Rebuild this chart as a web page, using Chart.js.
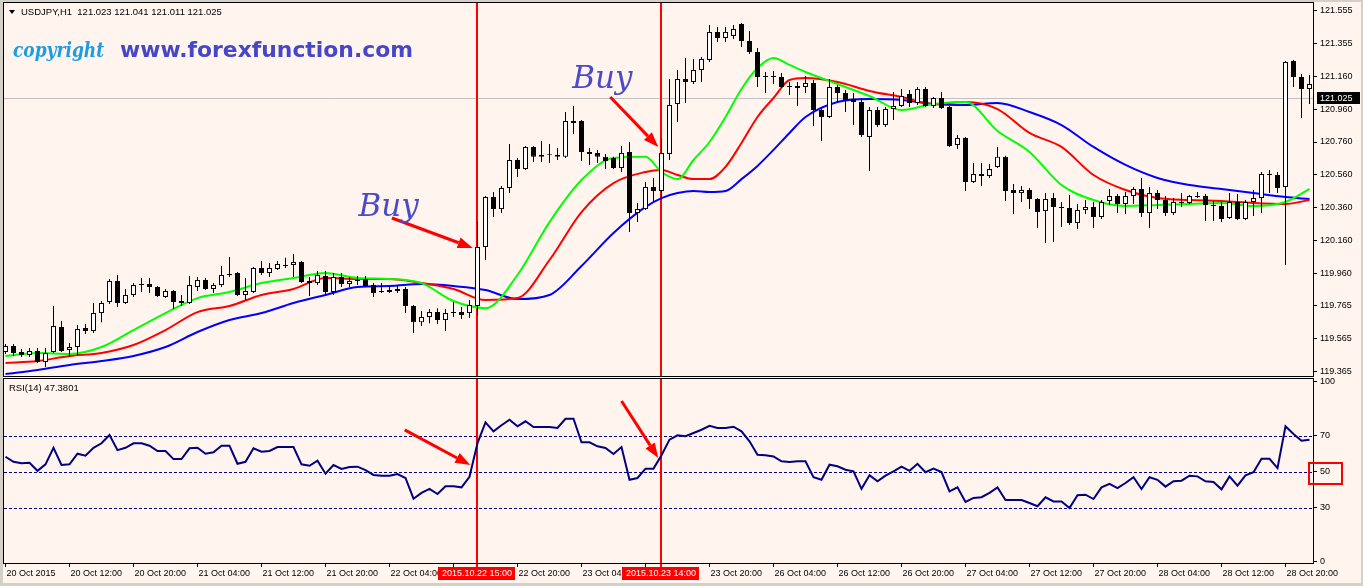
<!DOCTYPE html>
<html><head><meta charset="utf-8">
<script src="https://cdn.jsdelivr.net/npm/chart.js@4.4.0/dist/chart.umd.min.js"></script>
<style>
html,body{margin:0;padding:0;background:#FFF5EE;}
#wrap{position:relative;width:1363px;height:586px;background:#FFF5EE;overflow:hidden;font-family:"Liberation Sans",Arial,sans-serif;}
canvas{position:absolute;left:0;}
.strip{position:absolute;background:#D4D0C8;}
.txt{position:absolute;white-space:pre;color:#000;display:inline-block;transform-origin:left top;}
</style></head><body>
<div id="wrap">
<canvas id="c1" width="1363" height="378" style="top:0;width:1363px;height:378px"></canvas>
<canvas id="c2" width="1363" height="208" style="top:378px;width:1363px;height:208px"></canvas>
<div class="strip" style="left:0;top:0;width:1363px;height:2px"></div>
<div class="strip" style="left:0;top:0;width:3px;height:586px"></div>
<div class="strip" style="left:0;top:583px;width:1363px;height:3px"></div>
<div class="strip" style="left:1361px;top:0;width:2px;height:586px"></div>
<div style="position:absolute;left:9px;top:10px;width:0;height:0;border-left:3px solid transparent;border-right:3px solid transparent;border-top:4px solid #000"></div>
<div class="txt" id="hdr" style="left:21px;top:6px;font-size:9.5px;line-height:11px">USDJPY,H1  121.023 121.041 121.011 121.025</div>
<div class="txt" id="copy1" style="left:13px;top:40px;font-family:'DejaVu Serif';font-style:italic;font-weight:bold;font-size:20px;line-height:20px;color:#1C9CE4">copyright</div>
<div class="txt" id="copy2" style="left:120px;top:40px;font-family:'DejaVu Sans';font-weight:bold;font-size:21px;line-height:21px;color:#4646C8">www.forexfunction.com</div>
<div class="txt" id="rsilbl" style="left:9px;top:382px;font-size:9.5px;line-height:11px">RSI(14) 47.3801</div>
</div>
<script>
// ---------- DATA ----------
const opens = [119.486,119.522,119.486,119.468,119.492,119.425,119.486,119.637,119.498,119.516,
119.631,119.613,119.722,119.789,119.917,119.783,119.832,119.898,119.898,119.880,
119.820,119.856,119.795,119.783,119.880,119.923,119.868,119.892,119.959,119.965,
119.832,119.850,119.996,119.965,119.990,120.014,120.014,120.032,119.917,119.904,
119.947,119.850,119.941,119.898,119.923,119.929,119.892,119.856,119.850,119.868,
119.868,119.765,119.667,119.698,119.728,119.680,119.728,119.728,119.722,119.765,
120.123,120.426,120.353,120.481,120.651,120.596,120.730,120.682,120.688,120.670,
120.670,120.888,120.888,120.700,120.694,120.670,120.663,120.602,120.700,120.329,
120.353,120.487,120.463,120.688,120.991,121.142,121.124,121.197,121.258,121.428,
121.391,121.404,121.476,121.373,121.306,121.155,121.161,121.155,121.100,121.100,
121.094,121.118,120.954,120.912,121.094,121.058,121.021,121.003,120.791,120.954,
120.863,120.960,120.979,121.051,120.997,121.082,120.979,121.027,120.973,120.742,
120.784,120.517,120.566,120.554,120.609,120.670,120.469,120.450,120.469,120.414,
120.341,120.420,120.366,120.360,120.268,120.347,120.366,120.305,120.402,120.432,
120.384,120.432,120.475,120.329,120.450,120.408,120.329,120.396,120.390,120.426,
120.432,120.378,120.372,120.299,120.396,120.293,120.396,120.420,120.566,120.560,
120.487,121.252,121.155,121.082];
const highs = [119.534,119.534,119.504,119.510,119.510,119.510,119.765,119.674,119.540,119.649,
119.655,119.783,119.795,119.929,119.953,119.868,119.904,119.935,119.935,119.886,
119.868,119.862,119.832,119.947,119.941,119.935,119.904,120.008,120.063,119.971,
119.935,120.002,120.038,120.026,120.038,120.057,120.081,120.038,119.941,119.977,
119.977,119.965,119.965,119.941,119.947,119.947,119.904,119.904,119.880,119.892,
119.880,119.771,119.734,119.746,119.752,119.746,119.789,119.759,119.801,120.275,
120.432,120.457,120.493,120.748,120.663,120.736,120.736,120.766,120.748,120.724,
120.942,120.979,120.894,120.724,120.712,120.688,120.670,120.736,120.760,120.390,
120.517,120.542,120.778,121.142,121.197,121.270,121.264,121.276,121.470,121.458,
121.458,121.470,121.482,121.434,121.331,121.185,121.191,121.179,121.124,121.124,
121.161,121.136,120.973,121.142,121.106,121.076,121.058,121.027,120.973,120.973,
120.973,121.064,121.082,121.076,121.094,121.094,121.033,121.064,120.979,120.803,
120.790,120.633,120.633,120.627,120.730,120.676,120.505,120.493,120.481,120.420,
120.450,120.450,120.396,120.438,120.384,120.408,120.396,120.408,120.475,120.444,
120.457,120.487,120.542,120.487,120.469,120.432,120.420,120.450,120.438,120.457,
120.444,120.402,120.396,120.450,120.444,120.408,120.469,120.578,120.590,120.578,
121.252,121.258,121.173,121.167];
const lows = [119.474,119.462,119.456,119.456,119.419,119.395,119.480,119.486,119.456,119.468,
119.595,119.601,119.667,119.777,119.759,119.777,119.820,119.850,119.844,119.820,
119.813,119.746,119.765,119.777,119.856,119.862,119.844,119.880,119.941,119.826,
119.801,119.844,119.953,119.941,119.984,119.996,119.941,119.904,119.826,119.892,
119.826,119.832,119.880,119.880,119.892,119.880,119.820,119.844,119.844,119.844,
119.722,119.601,119.643,119.661,119.655,119.613,119.698,119.686,119.692,119.710,
120.044,120.305,120.329,120.450,120.548,120.590,120.639,120.639,120.633,120.651,
120.663,120.809,120.645,120.621,120.633,120.596,120.596,120.578,120.214,120.274,
120.347,120.396,120.408,120.651,120.882,120.997,121.112,121.124,121.246,121.367,
121.367,121.385,121.337,121.294,121.094,121.058,121.112,121.088,121.045,120.979,
121.058,120.857,120.766,120.906,121.003,120.942,120.863,120.791,120.584,120.851,
120.851,120.894,120.973,120.973,120.985,120.973,120.966,120.960,120.730,120.718,
120.463,120.511,120.493,120.542,120.602,120.402,120.323,120.396,120.353,120.238,
120.147,120.153,120.244,120.256,120.232,120.323,120.238,120.293,120.378,120.329,
120.323,120.384,120.305,120.238,120.353,120.311,120.317,120.366,120.384,120.420,
120.281,120.281,120.274,120.293,120.287,120.287,120.311,120.329,120.450,120.450,
120.014,121.094,120.906,120.991];
const closes = [119.522,119.480,119.468,119.492,119.425,119.480,119.643,119.492,119.516,119.625,
119.613,119.722,119.783,119.917,119.783,119.832,119.892,119.892,119.880,119.826,
119.856,119.789,119.783,119.892,119.923,119.868,119.892,119.953,119.953,119.832,
119.856,119.996,119.965,119.996,120.020,120.008,120.032,119.910,119.904,119.953,
119.850,119.941,119.898,119.917,119.917,119.886,119.844,119.850,119.862,119.856,
119.765,119.667,119.698,119.728,119.680,119.722,119.722,119.710,119.771,120.123,
120.426,120.353,120.481,120.651,120.596,120.730,120.670,120.670,120.682,120.682,
120.888,120.876,120.700,120.688,120.670,120.645,120.602,120.694,120.329,120.353,
120.487,120.463,120.694,120.985,121.142,121.124,121.197,121.264,121.428,121.391,
121.428,121.446,121.373,121.306,121.155,121.161,121.155,121.094,121.094,121.088,
121.118,120.954,120.912,121.094,121.058,121.015,121.003,120.803,120.954,120.863,
120.960,120.979,121.039,120.997,121.082,120.979,121.027,120.966,120.736,120.784,
120.517,120.566,120.554,120.596,120.670,120.463,120.450,120.469,120.414,120.335,
120.414,120.366,120.360,120.268,120.347,120.366,120.305,120.396,120.432,120.384,
120.432,120.475,120.329,120.450,120.408,120.329,120.396,120.390,120.432,120.432,
120.378,120.372,120.293,120.396,120.293,120.396,120.420,120.566,120.560,120.481,
121.246,121.155,121.082,121.112];

const maIdx   = [0,4,8,12,16,20,24,28,32,36,40,44,48,52,56,60,64,68,72,76,80,82,84,86,88,90,92,94,96,98,100,104,108,112,116,120,124,128,132,136,140,144,148,152,156,160,163];
const maGreen = [119.462,119.480,119.474,119.516,119.619,119.722,119.813,119.850,119.904,119.935,119.965,119.935,119.929,119.904,119.795,119.752,119.953,120.274,120.529,120.663,120.670,120.578,120.535,120.651,120.760,120.912,121.082,121.209,121.270,121.228,121.185,121.112,121.039,120.954,120.991,121.003,120.827,120.700,120.499,120.408,120.372,120.378,120.384,120.390,120.372,120.396,120.475];
const maRed   = [119.419,119.431,119.462,119.480,119.528,119.619,119.728,119.765,119.832,119.868,119.935,119.929,119.929,119.904,119.868,119.801,119.813,120.044,120.335,120.511,120.578,120.590,120.560,120.535,120.535,120.609,120.754,120.912,121.027,121.136,121.148,121.124,121.070,121.033,120.991,121.003,120.960,120.815,120.730,120.560,120.469,120.420,120.408,120.402,120.390,120.384,120.408];
const maBlue  = [119.352,119.377,119.407,119.431,119.462,119.516,119.607,119.680,119.722,119.783,119.832,119.880,119.886,119.898,119.886,119.862,119.807,119.832,120.008,120.208,120.366,120.420,120.450,120.463,120.457,120.463,120.535,120.615,120.712,120.815,120.912,121.003,121.021,121.015,120.991,120.985,120.997,120.942,120.863,120.730,120.621,120.542,120.499,120.475,120.450,120.426,120.414];

const rsi = [58.2,55.4,54.6,54.9,50.4,54.0,63.2,53.6,54.0,59.9,
58.8,63.2,65.7,70.3,61.9,63.2,65.7,65.7,64.3,61.4,
61.4,56.9,56.9,62.9,63.2,59.9,60.7,64.3,64.3,54.3,
55.4,62.9,61.0,61.4,63.6,63.6,63.6,54.0,53.2,56.0,
48.8,53.6,51.4,52.5,52.7,50.8,48.1,47.7,47.7,48.6,
46.4,34.9,38.1,40.4,37.5,41.8,41.8,41.2,47.1,65.8,
77.3,72.3,75.7,78.8,75.1,77.9,74.7,74.7,74.7,74.2,
79.3,79.3,66.2,66.2,64.0,63.1,59.7,63.6,45.4,46.4,
51.6,51.6,59.0,67.7,70.1,69.6,71.4,73.2,75.4,74.2,
74.2,74.9,72.3,66.8,59.3,59.0,58.4,55.7,55.3,55.7,
55.7,46.8,45.4,53.8,52.9,51.0,50.1,40.4,47.9,44.6,
47.7,50.1,52.7,50.4,54.3,49.6,51.6,49.7,39.0,41.2,
33.1,35.3,35.7,38.1,41.2,34.2,34.2,34.2,32.5,30.7,
35.7,33.4,33.4,29.7,36.8,37.1,34.7,41.2,43.2,40.8,
43.6,46.8,40.3,46.8,45.4,41.6,44.6,44.9,47.7,47.3,
44.6,44.2,40.1,47.3,42.1,47.9,49.6,57.1,57.1,51.9,
75.1,70.8,67.1,67.7];

const priceTicks = [121.555,121.355,121.160,120.960,120.760,120.560,120.360,120.160,119.960,119.765,119.565,119.365];
const rsiTicks = [100,70,50,30,0];
const rsiLevels = [70,50,30];
const timeTickIdx = [0,8,16,24,32,40,48,56,64,72,80,88,96,104,112,120,128,136,144,152,160];
const timeTickLabels = ['20 Oct 2015','20 Oct 12:00','20 Oct 20:00','21 Oct 04:00','21 Oct 12:00','21 Oct 20:00','22 Oct 04:00','22 Oct 12:00','22 Oct 20:00','23 Oct 04:00','23 Oct 12:00','23 Oct 20:00','26 Oct 04:00','26 Oct 12:00','26 Oct 20:00','27 Oct 04:00','27 Oct 12:00','27 Oct 20:00','28 Oct 04:00','28 Oct 12:00','28 Oct 20:00'];
const markerBars = [59,82];
const markerLabels = ['2015.10.22 15:00','2015.10.23 14:00'];
const currentPrice = 121.025;
const currentPriceLabel = '121.025';
// annotations in data units (bar index, value)
const priceArrows = [{from:[48.3,120.299],to:[58.4,120.117]},{from:[75.6,121.033],to:[81.6,120.730]}];
const rsiArrows = [{from:[49.9,73.1],to:[58.1,53.6]},{from:[77.0,89.2],to:[81.6,57.5]}];
const buyNotes = [{x:47.9,y:120.311,text:'Buy'},{x:74.6,y:121.088,text:'Buy'}];

// ---------- RENDER ----------
Chart.defaults.font.family = "'Liberation Sans', Arial, sans-serif";
Chart.defaults.font.size = 9;
Chart.defaults.color = '#000';
const X_MIN = -0.1875, X_MAX = 163.4375;
const AXIS_FONT = {family:"'Liberation Sans', Arial, sans-serif", size:9};

function drawArrow(ctx,x1,y1,x2,y2){
  const ang = Math.atan2(y2-y1,x2-x1), hl=15, hw=5.5;
  const bx = x2-hl*Math.cos(ang), by = y2-hl*Math.sin(ang);
  ctx.strokeStyle='#FF0000'; ctx.fillStyle='#FF0000'; ctx.lineWidth=3; ctx.lineCap='butt';
  ctx.beginPath(); ctx.moveTo(x1,y1); ctx.lineTo(bx,by); ctx.stroke();
  ctx.beginPath(); ctx.moveTo(x2,y2);
  ctx.lineTo(bx-hw*Math.sin(ang), by+hw*Math.cos(ang));
  ctx.lineTo(bx+hw*Math.sin(ang), by-hw*Math.cos(ang));
  ctx.closePath(); ctx.fill();
}
function drawFrame(chart){
  const {ctx, chartArea:a} = chart;
  ctx.save(); ctx.strokeStyle='#000'; ctx.lineWidth=1;
  ctx.strokeRect(Math.floor(a.left)-0.5, Math.floor(a.top)-0.5, Math.round(a.right-a.left)+1, Math.round(a.bottom-a.top)+1);
  ctx.restore();
}
function drawMarkers(chart, extra){
  const {ctx, chartArea:a, scales:{x}} = chart;
  ctx.save(); ctx.strokeStyle='#FF0000'; ctx.lineWidth=2;
  markerBars.forEach(b=>{
    const px = Math.floor(x.getPixelForValue(b));
    ctx.beginPath(); ctx.moveTo(px,a.top); ctx.lineTo(px,a.bottom+extra); ctx.stroke();
  });
  ctx.restore();
}
function noPad(s){ s.paddingTop=0; s.paddingBottom=0; s.paddingLeft=0; s.paddingRight=0; }

const mainDeco = {
  id:'mainDeco',
  beforeDatasetsDraw(chart){
    const {ctx, chartArea:a, scales:{y}} = chart;
    ctx.save();
    const py = Math.round(y.getPixelForValue(currentPrice))+0.5;
    ctx.strokeStyle='#C0C0C0'; ctx.lineWidth=1;
    ctx.beginPath(); ctx.moveTo(a.left,py); ctx.lineTo(a.right,py); ctx.stroke();
    ctx.restore();
    drawMarkers(chart,0);
  },
  afterDatasetsDraw(chart){
    const {ctx, scales:{x,y}} = chart;
    ctx.save();
    priceArrows.forEach(ar=>drawArrow(ctx, x.getPixelForValue(ar.from[0]), y.getPixelForValue(ar.from[1]), x.getPixelForValue(ar.to[0]), y.getPixelForValue(ar.to[1])));
    ctx.fillStyle='#4B4BC8'; ctx.font="italic 31px 'DejaVu Serif'"; ctx.textAlign='center'; ctx.textBaseline='alphabetic';
    buyNotes.forEach(n=>ctx.fillText(n.text, x.getPixelForValue(n.x), y.getPixelForValue(n.y)));
    ctx.restore();
  },
  afterDraw(chart){
    drawFrame(chart);
    const {ctx, chartArea:a, scales:{y}} = chart;
    ctx.save();
    const py = Math.round(y.getPixelForValue(currentPrice));
    ctx.fillStyle='#000'; ctx.fillRect(a.right+4, py-6, 43, 12);
    ctx.fillStyle='#FFF'; ctx.font="9px 'Liberation Sans'"; ctx.textAlign='left'; ctx.textBaseline='middle';
    ctx.fillText(currentPriceLabel, a.right+7, py+0.5);
    ctx.restore();
  }
};

const rsiDeco = {
  id:'rsiDeco',
  beforeDatasetsDraw(chart){
    const {ctx, chartArea:a, scales:{y}} = chart;
    ctx.save(); ctx.strokeStyle='#000080'; ctx.lineWidth=1; ctx.setLineDash([3,2]);
    rsiLevels.forEach(v=>{
      const py = Math.round(y.getPixelForValue(v))+0.5;
      ctx.beginPath(); ctx.moveTo(a.left,py); ctx.lineTo(a.right,py); ctx.stroke();
    });
    ctx.restore();
    drawMarkers(chart,5);
  },
  afterDatasetsDraw(chart){
    const {ctx, scales:{x,y}} = chart;
    ctx.save();
    rsiArrows.forEach(ar=>drawArrow(ctx, x.getPixelForValue(ar.from[0]), y.getPixelForValue(ar.from[1]), x.getPixelForValue(ar.to[0]), y.getPixelForValue(ar.to[1])));
    ctx.restore();
  },
  afterDraw(chart){
    drawFrame(chart);
    const {ctx, chartArea:a, scales:{x,y}} = chart;
    ctx.save();
    const p50 = y.getPixelForValue(50);
    ctx.strokeStyle='#FF0000'; ctx.lineWidth=2;
    ctx.strokeRect(a.right-4, Math.round(p50)-9, 33, 21);
    ctx.font="9px 'Liberation Sans'"; ctx.textAlign='center'; ctx.textBaseline='middle';
    markerBars.forEach((b,k)=>{
      const px = Math.floor(x.getPixelForValue(b));
      const w = Math.ceil(ctx.measureText(markerLabels[k]).width)+6;
      ctx.fillStyle='#FF0000'; ctx.fillRect(px-Math.round(w/2), a.bottom+4, w, 13);
      ctx.fillStyle='#FFFFFF'; ctx.fillText(markerLabels[k], px, a.bottom+11);
    });
    ctx.restore();
  }
};

const idx = opens.map((_,i)=>i);
const wickData = idx.map(i=>({x:i, y:[lows[i], highs[i]]}));
const bodyData = idx.map(i=>({x:i, y:[opens[i], closes[i]]}));
const bodyFill = idx.map(i=> closes[i] >= opens[i] ? '#FFFFFF' : '#000000');
const pts = arr => maIdx.map((ix,k)=>({x:ix, y:arr[k]}));
const lineDs = (arr,color,order)=>({type:'line', data:pts(arr), borderColor:color, borderWidth:2, pointRadius:0, cubicInterpolationMode:'monotone', order:order});

new Chart(document.getElementById('c1'), {
  type:'line',
  data:{datasets:[
    lineDs(maBlue,'#0000FF',5),
    lineDs(maRed,'#FF0000',4),
    lineDs(maGreen,'#00FF00',3),
    {type:'bar', data:wickData, backgroundColor:'#000000', borderWidth:0, barThickness:1, grouped:false, order:2, inflateAmount:0},
    {type:'bar', data:bodyData, backgroundColor:bodyFill, borderColor:'#000000', borderWidth:1, borderSkipped:false, barThickness:5, grouped:false, order:1, inflateAmount:0}
  ]},
  options:{
    responsive:false, animation:false, devicePixelRatio:1, events:[],
    layout:{padding:{left:4, top:3, right:0, bottom:2}},
    plugins:{legend:{display:false}, tooltip:{enabled:false}},
    scales:{
      x:{type:'linear', min:X_MIN, max:X_MAX, offset:false, display:false, grid:{offset:false}},
      y:{type:'linear', position:'right', min:119.3402, max:121.6035,
        afterBuildTicks:s=>{s.ticks = priceTicks.map(v=>({value:v}));},
        afterFit:s=>{s.width=50; noPad(s);},
        grid:{drawOnChartArea:false, drawTicks:true, tickLength:4, color:'#000'},
        border:{display:false},
        ticks:{autoSkip:false, padding:3, color:'#000', font:AXIS_FONT, callback:v=>Number(v).toFixed(3)}
      }
    }
  },
  plugins:[mainDeco]
});

new Chart(document.getElementById('c2'), {
  type:'line',
  data:{datasets:[{data:rsi.map((v,i)=>({x:i,y:v})), borderColor:'#000080', borderWidth:2, pointRadius:0, tension:0}]},
  options:{
    responsive:false, animation:false, devicePixelRatio:1, events:[],
    layout:{padding:{left:4, top:1, right:0, bottom:0}},
    plugins:{legend:{display:false}, tooltip:{enabled:false}},
    scales:{
      x:{type:'linear', position:'bottom', min:X_MIN, max:X_MAX, offset:false,
        afterBuildTicks:s=>{s.ticks = timeTickIdx.map(v=>({value:v}));},
        afterFit:s=>{s.height=23; noPad(s);},
        grid:{drawOnChartArea:false, drawTicks:true, tickLength:4, color:'#000', offset:false},
        border:{display:false},
        ticks:{autoSkip:false, maxRotation:0, minRotation:0, align:'start', padding:1, labelOffset:1, color:'#000', font:AXIS_FONT,
          callback:(v,i)=>timeTickLabels[i]}
      },
      y:{type:'linear', position:'right', min:-0.83, max:101.4,
        afterBuildTicks:s=>{s.ticks = rsiTicks.map(v=>({value:v}));},
        afterFit:s=>{s.width=50; noPad(s);},
        grid:{drawOnChartArea:false, drawTicks:true, tickLength:4, color:'#000'},
        border:{display:false},
        ticks:{autoSkip:false, padding:3, color:'#000', font:AXIS_FONT, callback:v=>String(v)}
      }
    }
  },
  plugins:[rsiDeco]
});

function fit(id,w){
  const el=document.getElementById(id);
  const cw=el.getBoundingClientRect().width;
  if(cw>0) el.style.transform='scaleX('+(w/cw)+')';
}
fit('copy1',91); fit('copy2',293);
</script>
</body></html>
